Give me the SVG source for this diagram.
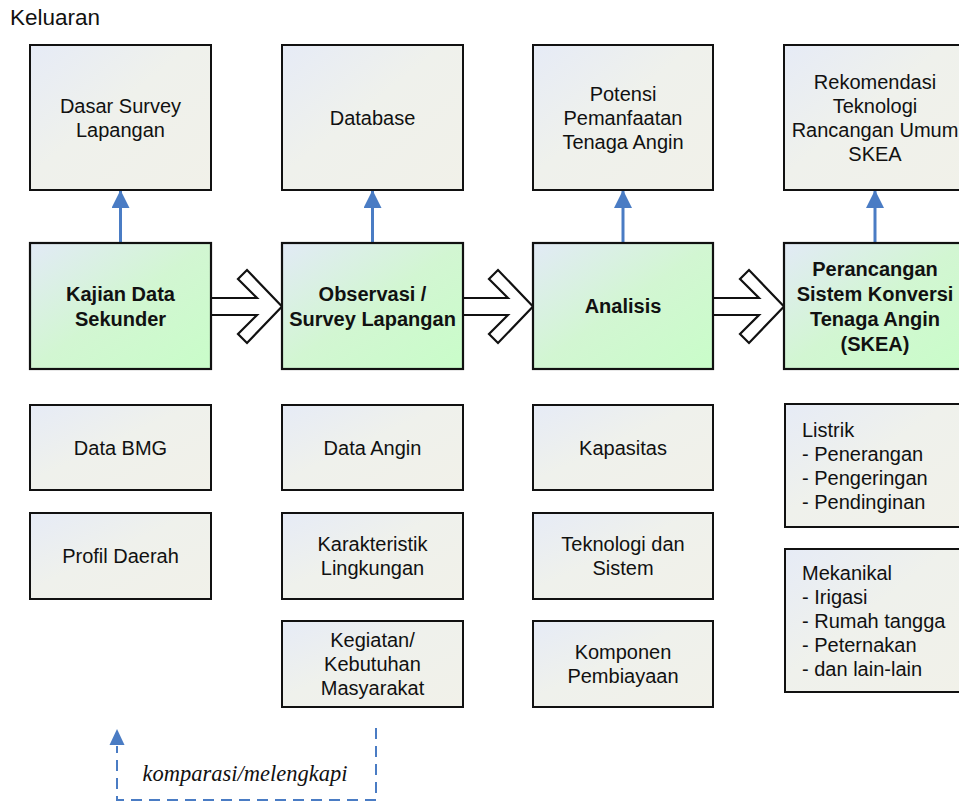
<svg xmlns="http://www.w3.org/2000/svg" width="959" height="803" viewBox="0 0 959 803">
<defs>
<linearGradient id="gGrey" x1="0" y1="0" x2="1" y2="1">
<stop offset="0" stop-color="#e6ebf6"/>
<stop offset="0.45" stop-color="#eff1ec"/>
<stop offset="1" stop-color="#f1f1e9"/>
</linearGradient>
<linearGradient id="gGreen" x1="0" y1="0" x2="1" y2="1">
<stop offset="0" stop-color="#e2eaf6"/>
<stop offset="0.5" stop-color="#d2f6d2"/>
<stop offset="1" stop-color="#c9fdc9"/>
</linearGradient>
<marker id="blueHead" markerUnits="userSpaceOnUse" markerWidth="20" markerHeight="20" refX="18" refY="9" orient="auto">
<path d="M0,0 L18,9 L0,18 Z" fill="#4a7cc4"/>
</marker>
<style>
.box{fill:url(#gGrey);stroke:#111;stroke-width:2}
.gbox{fill:url(#gGreen);stroke:#111;stroke-width:2.2}
.t{font-family:"Liberation Sans",Arial,sans-serif;font-size:20px;fill:#111;text-anchor:middle}
.tl{font-family:"Liberation Sans",Arial,sans-serif;font-size:20px;fill:#111}
.b{font-family:"Liberation Sans",Arial,sans-serif;font-size:20px;font-weight:bold;fill:#111;text-anchor:middle}
.blk{fill:#fff;stroke:#111;stroke-width:2.2;stroke-linejoin:miter}
.up{stroke:#4a7cc4;stroke-width:3;fill:none}
.dash{stroke:#4a7cc4;stroke-width:2;fill:none;stroke-dasharray:11 7}
</style>
</defs>
<rect width="959" height="803" fill="#fff"/>
<text x="10" y="25" class="tl" style="font-size:22.5px">Keluaran</text>

<g id="connectors">
<line class="up" x1="120.5" y1="244" x2="120.5" y2="190" marker-end="url(#blueHead)"/>
<line class="up" x1="372.5" y1="244" x2="372.5" y2="190" marker-end="url(#blueHead)"/>
<line class="up" x1="623" y1="244" x2="623" y2="190" marker-end="url(#blueHead)"/>
<line class="up" x1="875" y1="244" x2="875" y2="190" marker-end="url(#blueHead)"/>
<path class="blk" d="M211,298 L257,298 L238,279 L247,270 L282,306.5 L247,343 L238,334 L257,315 L211,315"/>
<path class="blk" d="M463,298 L508,298 L489,279 L498,270 L533,306.5 L498,343 L489,334 L508,315 L463,315"/>
<path class="blk" d="M713,298 L759,298 L740,279 L749,270 L784,306.5 L749,343 L740,334 L759,315 L713,315"/>
<path class="dash" d="M376,728 V800 H117 V746"/>
<path d="M117,729 L124.5,745 L109.5,745 Z" fill="#4a7cc4"/>
<text x="245" y="781" style="font-family:'Liberation Serif','Times New Roman',serif;font-style:italic;font-size:22.5px;fill:#111;text-anchor:middle">komparasi/melengkapi</text>
</g>

<g id="out-dasar">
<rect class="box" x="30" y="45" width="181" height="145"/>
<text class="t" x="120.5" y="112.5">Dasar Survey</text>
<text class="t" x="120.5" y="136.5">Lapangan</text>
</g>
<g id="out-database">
<rect class="box" x="282" y="45" width="181" height="145"/>
<text class="t" x="372.5" y="124.5">Database</text>
</g>
<g id="out-potensi">
<rect class="box" x="533" y="45" width="180" height="145"/>
<text class="t" x="623" y="100.5">Potensi</text>
<text class="t" x="623" y="124.5">Pemanfaatan</text>
<text class="t" x="623" y="148.5">Tenaga Angin</text>
</g>
<g id="out-rekomendasi">
<rect class="box" x="784" y="45" width="181" height="145"/>
<text class="t" x="875" y="88.5">Rekomendasi</text>
<text class="t" x="875" y="112.5">Teknologi</text>
<text class="t" x="875" y="136.5">Rancangan Umum</text>
<text class="t" x="875" y="160.5">SKEA</text>
</g>

<g id="kajian">
<rect class="gbox" x="30" y="243" width="181" height="126"/>
<text class="b" x="120.5" y="300.5">Kajian Data</text>
<text class="b" x="120.5" y="325.5">Sekunder</text>
</g>
<g id="observasi">
<rect class="gbox" x="282" y="243" width="181" height="126"/>
<text class="b" x="372.5" y="300.5">Observasi /</text>
<text class="b" x="372.5" y="325.5">Survey Lapangan</text>
</g>
<g id="analisis">
<rect class="gbox" x="533" y="243" width="180" height="126"/>
<text class="b" x="623" y="313">Analisis</text>
</g>
<g id="perancangan">
<rect class="gbox" x="784" y="243" width="181" height="126"/>
<text class="b" x="875" y="275.5">Perancangan</text>
<text class="b" x="875" y="300.5">Sistem Konversi</text>
<text class="b" x="875" y="325.5">Tenaga Angin</text>
<text class="b" x="875" y="350.5">(SKEA)</text>
</g>

<g id="data-bmg">
<rect class="box" x="30" y="405" width="181" height="85"/>
<text class="t" x="120.5" y="454.5">Data BMG</text>
</g>
<g id="profil-daerah">
<rect class="box" x="30" y="513" width="181" height="86"/>
<text class="t" x="120.5" y="563">Profil Daerah</text>
</g>
<g id="data-angin">
<rect class="box" x="282" y="405" width="181" height="85"/>
<text class="t" x="372.5" y="454.5">Data Angin</text>
</g>
<g id="karakteristik">
<rect class="box" x="282" y="513" width="181" height="86"/>
<text class="t" x="372.5" y="551">Karakteristik</text>
<text class="t" x="372.5" y="575">Lingkungan</text>
</g>
<g id="kegiatan">
<rect class="box" x="282" y="621" width="181" height="86"/>
<text class="t" x="372.5" y="647">Kegiatan/</text>
<text class="t" x="372.5" y="671">Kebutuhan</text>
<text class="t" x="372.5" y="695">Masyarakat</text>
</g>
<g id="kapasitas">
<rect class="box" x="533" y="405" width="180" height="85"/>
<text class="t" x="623" y="454.5">Kapasitas</text>
</g>
<g id="teknologi">
<rect class="box" x="533" y="513" width="180" height="86"/>
<text class="t" x="623" y="551">Teknologi dan</text>
<text class="t" x="623" y="575">Sistem</text>
</g>
<g id="komponen">
<rect class="box" x="533" y="621" width="180" height="86"/>
<text class="t" x="623" y="659">Komponen</text>
<text class="t" x="623" y="683">Pembiayaan</text>
</g>
<g id="listrik">
<rect class="box" x="785" y="404" width="181" height="123"/>
<text class="tl" x="802" y="436.5">Listrik</text>
<text class="tl" x="802" y="460.5">- Penerangan</text>
<text class="tl" x="802" y="484.5">- Pengeringan</text>
<text class="tl" x="802" y="508.5">- Pendinginan</text>
</g>
<g id="mekanikal">
<rect class="box" x="785" y="549" width="181" height="143"/>
<text class="tl" x="802" y="579.5">Mekanikal</text>
<text class="tl" x="802" y="603.5">- Irigasi</text>
<text class="tl" x="802" y="627.5">- Rumah tangga</text>
<text class="tl" x="802" y="651.5">- Peternakan</text>
<text class="tl" x="802" y="675.5">- dan lain-lain</text>
</g>
</svg>
